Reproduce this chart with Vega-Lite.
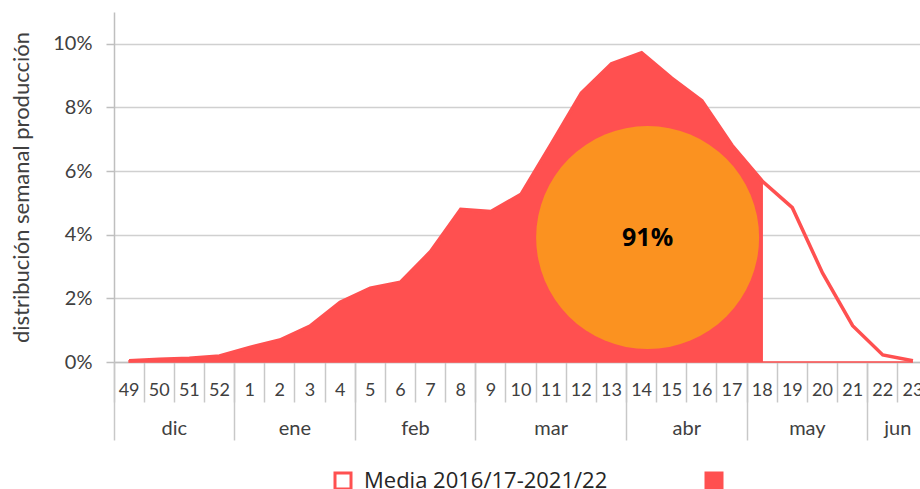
{
  "$schema": "https://vega.github.io/schema/vega-lite/v6.json",
  "width": 814,
  "height": 350,
  "autosize": {"type": "none"},
  "padding": {"left": 114, "top": 12, "right": 0, "bottom": 127},
  "background": "white",
  "config": {"view": {"stroke": null}},
  "datasets": {
    "media": [
      {"semana": "49", "valor": 0.0004, "serie": "Media 2016/17-2021/22"},
      {"semana": "50", "valor": 0.00085, "serie": "Media 2016/17-2021/22"},
      {"semana": "51", "valor": 0.0012, "serie": "Media 2016/17-2021/22"},
      {"semana": "52", "valor": 0.0019, "serie": "Media 2016/17-2021/22"},
      {"semana": "1", "valor": 0.0046, "serie": "Media 2016/17-2021/22"},
      {"semana": "2", "valor": 0.0069, "serie": "Media 2016/17-2021/22"},
      {"semana": "3", "valor": 0.0113, "serie": "Media 2016/17-2021/22"},
      {"semana": "4", "valor": 0.0188, "serie": "Media 2016/17-2021/22"},
      {"semana": "5", "valor": 0.0232, "serie": "Media 2016/17-2021/22"},
      {"semana": "6", "valor": 0.0251, "serie": "Media 2016/17-2021/22"},
      {"semana": "7", "valor": 0.0347, "serie": "Media 2016/17-2021/22"},
      {"semana": "8", "valor": 0.048, "serie": "Media 2016/17-2021/22"},
      {"semana": "9", "valor": 0.0473, "serie": "Media 2016/17-2021/22"},
      {"semana": "10", "valor": 0.0527, "serie": "Media 2016/17-2021/22"},
      {"semana": "11", "valor": 0.0685, "serie": "Media 2016/17-2021/22"},
      {"semana": "12", "valor": 0.0845, "serie": "Media 2016/17-2021/22"},
      {"semana": "13", "valor": 0.0937, "serie": "Media 2016/17-2021/22"},
      {"semana": "14", "valor": 0.0972, "serie": "Media 2016/17-2021/22"},
      {"semana": "15", "valor": 0.0892, "serie": "Media 2016/17-2021/22"},
      {"semana": "16", "valor": 0.0821, "serie": "Media 2016/17-2021/22"},
      {"semana": "17", "valor": 0.0681, "serie": "Media 2016/17-2021/22"},
      {"semana": "18", "valor": 0.0569, "serie": "Media 2016/17-2021/22"},
      {"semana": "19", "valor": 0.0485, "serie": "Media 2016/17-2021/22"},
      {"semana": "20", "valor": 0.028, "serie": "Media 2016/17-2021/22"},
      {"semana": "21", "valor": 0.0114, "serie": "Media 2016/17-2021/22"},
      {"semana": "22", "valor": 0.0022, "serie": "Media 2016/17-2021/22"},
      {"semana": "23", "valor": 0.0004, "serie": "Media 2016/17-2021/22"}
    ],
    "acumulado": [
      {"semana": "49", "valor": 0.0004},
      {"semana": "50", "valor": 0.00085},
      {"semana": "51", "valor": 0.0012},
      {"semana": "52", "valor": 0.0019},
      {"semana": "1", "valor": 0.0046},
      {"semana": "2", "valor": 0.0069},
      {"semana": "3", "valor": 0.0113},
      {"semana": "4", "valor": 0.0188},
      {"semana": "5", "valor": 0.0232},
      {"semana": "6", "valor": 0.0251},
      {"semana": "7", "valor": 0.0347},
      {"semana": "8", "valor": 0.048},
      {"semana": "9", "valor": 0.0473},
      {"semana": "10", "valor": 0.0527},
      {"semana": "11", "valor": 0.0685},
      {"semana": "12", "valor": 0.0845},
      {"semana": "13", "valor": 0.0937},
      {"semana": "14", "valor": 0.0972},
      {"semana": "15", "valor": 0.0892},
      {"semana": "16", "valor": 0.0821},
      {"semana": "17", "valor": 0.0681},
      {"semana": "18", "valor": 0.0569},
      {"semana": "18", "valor": 0},
      {"semana": "19", "valor": 0},
      {"semana": "20", "valor": 0},
      {"semana": "21", "valor": 0},
      {"semana": "22", "valor": 0},
      {"semana": "23", "valor": 0}
    ],
    "circulo": [
      {"semana": "14", "valor": 0.0391, "etiqueta": "91%"}
    ]
  },
  "layer": [
    {
      "data": {"name": "acumulado"},
      "mark": {"type": "area", "color": "#FF5050", "stroke": "#FF5050", "strokeWidth": 1.5, "opacity": 1},
      "encoding": {
        "x": {
          "field": "semana", "type": "ordinal",
          "sort": ["49","50","51","52","1","2","3","4","5","6","7","8","9","10","11","12","13","14","15","16","17","18","19","20","21","22","23"],
          "scale": {"type": "band", "paddingInner": 0, "paddingOuter": 0,
            "domain": ["49","50","51","52","1","2","3","4","5","6","7","8","9","10","11","12","13","14","15","16","17","18","19","20","21","22","23"]},
          "axis": {
            "orient": "bottom", "title": null, "bandPosition": 0, "labelAngle": 0,
            "labelFont": "Lato", "labelFontSize": 18, "labelColor": "#404040",
            "labelPadding": -21, "tickSize": 40, "tickColor": "#c8c8c8", "tickWidth": 1.5,
            "domainColor": "#bfbfbf", "domainWidth": 1.5, "grid": false, "labelBaseline": "top"
          }
        },
        "y": {
          "field": "valor", "type": "quantitative", "stack": null,
          "scale": {"domain": [0, 0.11], "nice": false},
          "axis": {
            "values": [0, 0.02, 0.04, 0.06, 0.08, 0.1], "format": ".0%",
            "labelFont": "Lato", "labelFontSize": 20, "labelColor": "#404040", "labelPadding": 14,
            "tickSize": 8, "tickColor": "#bfbfbf", "tickWidth": 1.5,
            "domainColor": "#bfbfbf", "domainWidth": 1.5,
            "grid": true, "gridColor": "#d0d0d0", "gridWidth": 1.5,
            "title": "distribución semanal producción", "titleFont": "Lato", "titleFontSize": 22,
            "titleFontWeight": "normal", "titleColor": "#404040", "titlePadding": 19
          }
        }
      }
    },
    {
      "data": {"name": "media"},
      "mark": {"type": "line", "strokeWidth": 3.5},
      "encoding": {
        "x": {
          "field": "semana", "type": "ordinal",
          "sort": ["49","50","51","52","1","2","3","4","5","6","7","8","9","10","11","12","13","14","15","16","17","18","19","20","21","22","23"],
          "scale": {"type": "band", "paddingInner": 0, "paddingOuter": 0,
            "domain": ["49","50","51","52","1","2","3","4","5","6","7","8","9","10","11","12","13","14","15","16","17","18","19","20","21","22","23"]},
          "axis": {
            "orient": "bottom", "title": null, "bandPosition": 0, "labelAngle": 0,
            "values": ["49","1","5","9","14","18","22"],
            "labelExpr": "datum.value === '49' ? 'dic' : datum.value === '1' ? 'ene' : datum.value === '5' ? 'feb' : datum.value === '9' ? 'mar' : datum.value === '14' ? 'abr' : datum.value === '18' ? 'may' : 'jun'",
            "labelOffset": {"condition": [{"test": "datum.value === '9'", "value": 60.3}, {"test": "datum.value === '22'", "value": 15.1}], "value": 45.2},
            "labelFont": "Lato", "labelFontSize": 20, "labelColor": "#404040",
            "labelPadding": -22, "tickSize": 78, "tickColor": "#c8c8c8", "tickWidth": 1.5,
            "domain": false, "grid": false, "labelBaseline": "top"
          }
        },
        "y": {"field": "valor", "type": "quantitative", "scale": {"domain": [0, 0.11], "nice": false}},
        "stroke": {
          "field": "serie", "type": "nominal",
          "scale": {"domain": ["Media 2016/17-2021/22", " "], "range": ["#FF5050", "#FF5050"]},
          "legend": {
            "orient": "none", "legendX": 218, "legendY": 458, "direction": "horizontal",
            "title": null, "symbolType": "square", "symbolSize": 256, "symbolStrokeWidth": 3,
            "labelFont": "Open Sans", "labelFontSize": 22, "labelColor": "#262626", "labelOffset": 10,
            "labelLimit": 400, "columnPadding": 92, "gridAlign": "all", "padding": 0,
            "encode": {"symbols": {"update": {"fill": {"signal": "datum.value === ' ' ? '#FF5050' : '#ffffff'"}, "fillOpacity": {"value": 1}}}}
          }
        }
      }
    },
    {
      "data": {"name": "circulo"},
      "mark": {"type": "circle", "size": 49700, "color": "#FB9220", "opacity": 1},
      "encoding": {
        "x": {"field": "semana", "type": "ordinal", "bandPosition": 0.7, "axis": null,
          "scale": {"type": "band", "paddingInner": 0, "paddingOuter": 0,
            "domain": ["49","50","51","52","1","2","3","4","5","6","7","8","9","10","11","12","13","14","15","16","17","18","19","20","21","22","23"]}},
        "y": {"field": "valor", "type": "quantitative", "scale": {"domain": [0, 0.11], "nice": false}}
      }
    },
    {
      "data": {"name": "circulo"},
      "mark": {"type": "text", "font": "Open Sans", "fontWeight": "bold", "fontSize": 25, "color": "#000000", "baseline": "middle", "align": "center"},
      "encoding": {
        "x": {"field": "semana", "type": "ordinal", "bandPosition": 0.7, "axis": null,
          "scale": {"type": "band", "paddingInner": 0, "paddingOuter": 0,
            "domain": ["49","50","51","52","1","2","3","4","5","6","7","8","9","10","11","12","13","14","15","16","17","18","19","20","21","22","23"]}},
        "y": {"field": "valor", "type": "quantitative", "scale": {"domain": [0, 0.11], "nice": false}},
        "text": {"field": "etiqueta"}
      }
    }
  ],
  "resolve": {"axis": {"x": "independent"}}
}
